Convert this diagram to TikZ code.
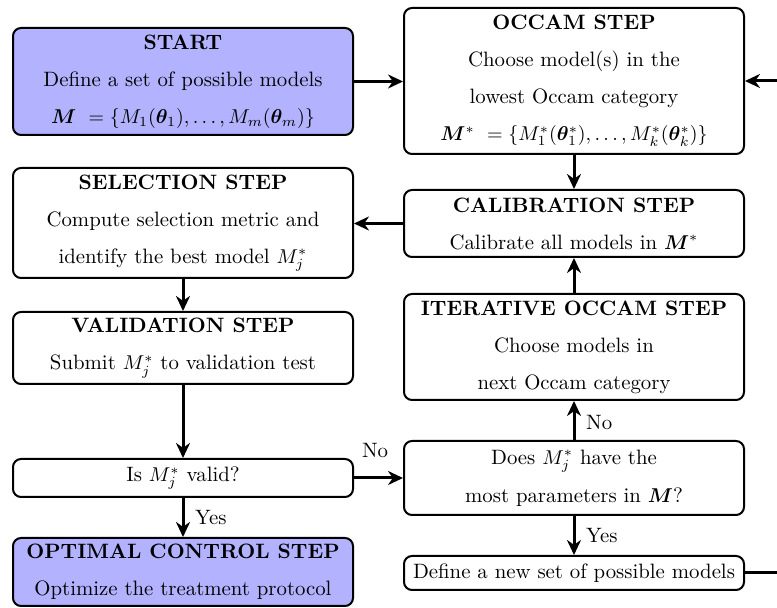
\documentclass[tikz,border=0pt]{standalone}
\usepackage{amsmath,amssymb,bm}
\usepackage{tikz}
\usetikzlibrary{arrows.meta}
\tikzset{
  stepbox/.style={
    draw=black, line width=1pt, rounded corners=4pt, fill=white,
    minimum width=170pt, align=center, inner sep=2pt,
  },
  flowarrow/.style={
    -{Stealth[length=7.5pt, width=7pt]}, line width=1.5pt,
  },
}

\begin{document}
\begin{tikzpicture}[x=0.5pt, y=-0.5pt,
    every node/.style={font=\fontsize{10.4pt}{12.5pt}\selectfont}]
% Defining colors
\definecolor{startblue}{rgb}{0.70, 0.70, 1.0}
\colorlet{colstart}{startblue}

\useasboundingbox (0, 0) rectangle (777, 608);

% =:=:=:=:=:=:=:=:=:=:=:=:=:=:=:=:=:=:=
% Left column
% =:=:=:=:=:=:=:=:=:=:=:=:=:=:=:=:=:=:=
\node[stepbox, fill=colstart, minimum height=53.5pt] (start) at (183, 81.5)
    {\textbf{START}\\[6pt]
     Define a set of possible models\\[6pt]
     $\boldsymbol{M}\ = \{M_1(\boldsymbol{\theta}_1), \dots, M_m(\boldsymbol{\theta}_m)\}$};

\node[stepbox, minimum height=55pt] (select) at (183, 223)
    {\textbf{SELECTION STEP}\\[6pt]
     Compute selection metric and\\[6pt]
     identify the best model $M_j^*$};

\node[stepbox, minimum height=36pt] (valid) at (183, 348)
    {\textbf{VALIDATION STEP}\\[6pt]
     Submit $M_j^*$ to validation test};

\node[stepbox, minimum height=19pt] (isvalid) at (183, 478)
    {Is $M_j^*$ valid?};

\node[stepbox, fill=colstart, minimum height=34pt] (optimal) at (183, 572)
    {\textbf{OPTIMAL CONTROL STEP}\\[6pt]
     Optimize the treatment protocol};

% =:=:=:=:=:=:=:=:=:=:=:=:=:=:=:=:=:=:=
% Right column
% =:=:=:=:=:=:=:=:=:=:=:=:=:=:=:=:=:=:=
\node[stepbox, minimum height=73pt] (occam) at (574, 81)
    {\textbf{OCCAM STEP}\\[6pt]
     Choose model(s) in the\\[6pt]
     lowest Occam category\\[6pt]
     $\boldsymbol{M}^*\ = \{M_1^*(\boldsymbol{\theta}_1^*), \dots, M_k^*(\boldsymbol{\theta}_k^*)\}$};

\node[stepbox, minimum height=33.5pt] (calib) at (574, 223.5)
    {\textbf{CALIBRATION STEP}\\[6pt]
     Calibrate all models in $\boldsymbol{M}^*$};

\node[stepbox, minimum height=53pt] (iter) at (574, 347)
    {\textbf{ITERATIVE OCCAM STEP}\\[6pt]
     Choose models in\\[6pt]
     next Occam category};

\node[stepbox, minimum height=37pt] (does) at (574, 478)
    {Does $M_j^*$ have the\\[6.5pt]
     most parameters in $\boldsymbol{M}$?};

\node[stepbox, minimum height=17pt] (newset) at (574, 573)
    {Define a new set of possible models};

% return loop runs off the right edge
\coordinate (loop) at (810, 573);

% =:=:=:=:=:=:=:=:=:=:=:=:=:=:=:=:=:=:=
% Arrows
% =:=:=:=:=:=:=:=:=:=:=:=:=:=:=:=:=:=:=
\draw[flowarrow] (start.east) -- (start.east -| occam.west);
\draw[flowarrow] (occam.south) -- (calib.north);
\draw[flowarrow] (calib.west) -- (calib.west -| select.east);
\draw[flowarrow] (select.south) -- (valid.north);
\draw[flowarrow] (valid.south) -- (isvalid.north);

\draw[flowarrow] (isvalid.east) -- (does.west)
    node[pos=0.43, above=6pt] {No};
\draw[flowarrow] (isvalid.south) -- (optimal.north)
    node[pos=0.5, right, xshift=2pt] {Yes};

\draw[flowarrow] (does.north) -- (iter.south)
    node[pos=0.45, right, xshift=2pt] {No};
\draw[flowarrow] (iter.north) -- (calib.south);
\draw[flowarrow] (does.south) -- (newset.north)
    node[pos=0.5, right, xshift=2pt] {Yes};

\draw[flowarrow] (newset.east) -- (loop) |- (occam.east);

\end{tikzpicture}
\end{document}
